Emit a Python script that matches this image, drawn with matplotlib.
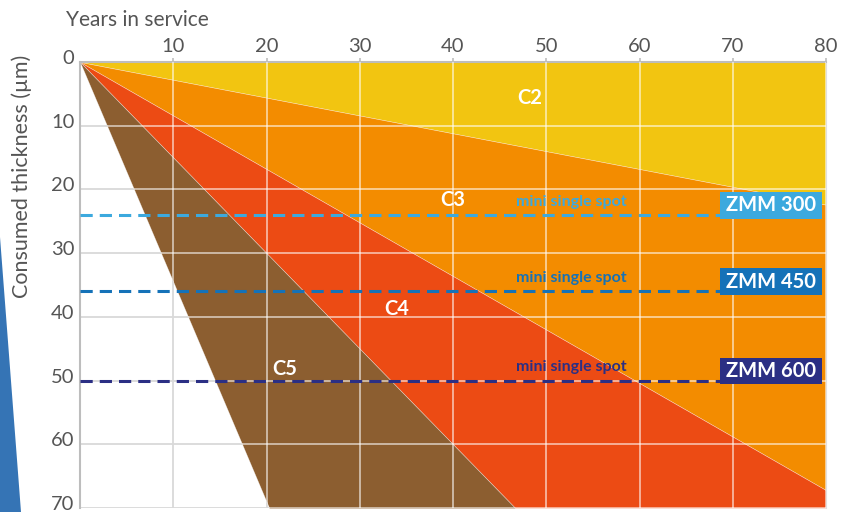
import numpy as np
import matplotlib.pyplot as plt
import matplotlib.transforms as mtransforms
from matplotlib.patches import Polygon, Rectangle

plt.rcParams['font.family'] = ['Lato', 'DejaVu Sans']

# ---------------------------------------------
# DATA
# ---------------------------------------------
years_max = 80
thickness_max = 70

# corrosivity categories and the consumption rate of their upper edge (µm / year)
categories = ['C2', 'C3', 'C4', 'C5']
edge_rates = [0.28, 0.84, 1.50, 3.45]
cat_colors = ['#F2C511', '#F38C00', '#EC4B14', '#8C5E30']
label_pos = [(48.2, 5.6), (40.0, 21.6), (34.0, 38.8), (22.0, 48.2)]

# coating thickness levels
products = ['ZMM 300', 'ZMM 450', 'ZMM 600']
product_levels = [24, 36, 50]
product_colors = ['#3CA9DE', '#1572B8', '#2B2F84']

x_ticks = [10, 20, 30, 40, 50, 60, 70, 80]
y_ticks = [0, 10, 20, 30, 40, 50, 60, 70]

# ---------------------------------------------
# FIGURE
# ---------------------------------------------
fig = plt.figure(figsize=(8.46, 5.12), dpi=100)
ax = fig.add_axes([80 / 846, 4 / 512, 746 / 846, 446 / 512])
ax.set_xlim(0, years_max)
ax.set_ylim(thickness_max, 0)

# break points where each edge line reaches the bottom
xs = np.array(sorted([0, years_max] + [thickness_max / r for r in edge_rates
                                        if thickness_max / r < years_max]))

def edge(rate):
    return np.minimum(rate * xs, thickness_max)

lower = np.zeros_like(xs)
for cat, rate, col in zip(categories, edge_rates, cat_colors):
    upper = edge(rate)
    ax.fill_between(xs, lower, upper, color=col, lw=0.4, edgecolor='#ffffff80', zorder=2)
    lower = upper

# grid: grey on white, light over the coloured fills
for gx in x_ticks:
    ax.axvline(gx, color='#d9d9d9', lw=1.3, zorder=1)
for gy in y_ticks[1:]:
    ax.axhline(gy, color='#d9d9d9', lw=1.3, zorder=1)

filled = Polygon(np.column_stack([np.r_[xs, xs[::-1]],
                                  np.r_[np.zeros_like(xs), edge(edge_rates[-1])[::-1]]]),
                 closed=True, transform=ax.transData, facecolor='none', edgecolor='none')
for gx in x_ticks:
    ln = ax.axvline(gx, color='white', lw=1.3, alpha=0.6, zorder=3)
    ln.set_clip_path(filled)
for gy in y_ticks[1:]:
    ln = ax.axhline(gy, color='white', lw=1.3, alpha=0.6, zorder=3)
    ln.set_clip_path(filled)

for cat, (lx, ly) in zip(categories, label_pos):
    ax.text(lx, ly, cat, color='white', fontsize=14.5, fontweight='bold',
            ha='center', va='center', zorder=6)

# coating levels
box_x0 = 68.6
for prod, lev, col in zip(products, product_levels, product_colors):
    ax.plot([0, box_x0], [lev, lev], color=col, lw=2.2, dashes=(4, 2.3), zorder=5)
    ax.text(52.7, lev - 2.1, 'mini single spot', color=col, fontsize=11.5,
            fontweight='bold', ha='center', va='center', zorder=6)
    ax.add_patch(Rectangle((box_x0, lev + 0.6), 79.6 - box_x0, -4.2,
                           facecolor=col, edgecolor='none', zorder=6))
    ax.text((box_x0 + 79.6) / 2, lev - 1.5, prod, color='white', fontsize=14.5,
            fontweight='bold', ha='center', va='center', zorder=7)

# axes styling
ax.xaxis.tick_top()
ax.set_xticks(x_ticks)
ax.set_yticks(y_ticks)
ax.tick_params(axis='both', colors='#bdbdbd', labelcolor='#555555',
               labelsize=14.5, length=3, width=1.2)
ax.tick_params(axis='x', pad=2)
ax.tick_params(axis='y', length=0, pad=4)
off = mtransforms.ScaledTranslation(0, 5 / 100, fig.dpi_scale_trans)
for lab in ax.get_yticklabels():
    lab.set_transform(lab.get_transform() + off)

for side in ['left', 'top']:
    ax.spines[side].set_color('#bdbdbd')
    ax.spines[side].set_linewidth(1.5)
ax.spines['right'].set_color('#e0e0e0')
ax.spines['bottom'].set_visible(False)

fig.text(66 / 846, 1 - 20 / 512, 'Years in service', fontsize=15, color='#555555',
         ha='left', va='center')
fig.text(22 / 846, 1 - 176 / 512, 'Consumed thickness (µm)', fontsize=15.5,
         color='#555555', rotation=90, ha='center', va='center')

# decorative blue sliver at the lower left
fig.patches.append(Polygon([(0, 275 / 512), (21 / 846, 0), (0, 0)], closed=True,
                           transform=fig.transFigure, facecolor='#3574B5',
                           edgecolor='none'))

fig.savefig('out.png', dpi=100)
